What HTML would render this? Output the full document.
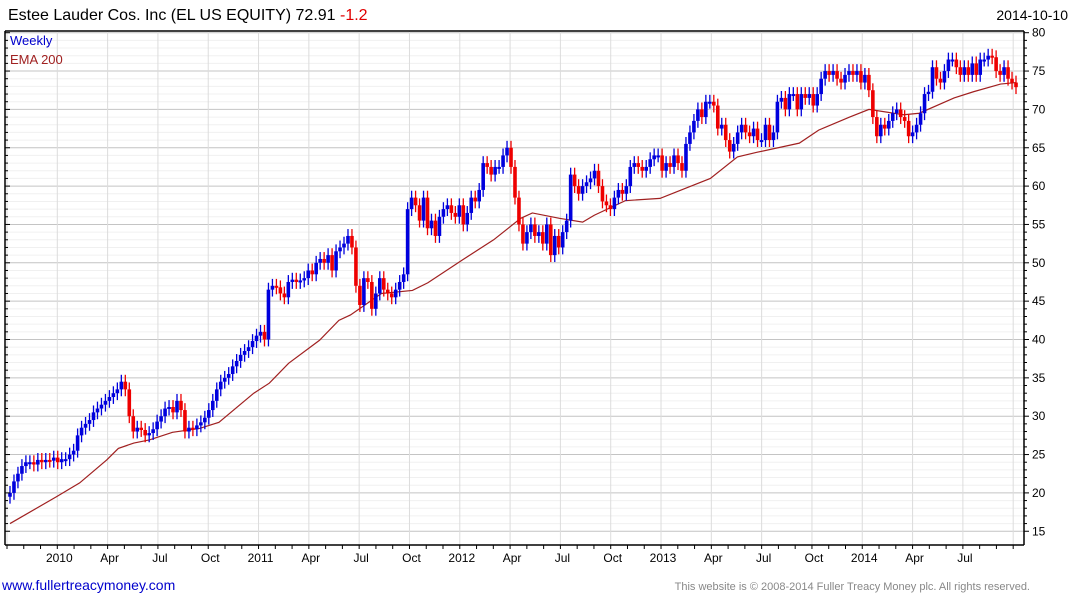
<!DOCTYPE html>
<html><head><meta charset="utf-8"><style>
body{margin:0;background:#fff;width:1075px;height:600px;overflow:hidden;font-family:"Liberation Sans",sans-serif}
svg{display:block}
</style></head><body>
<svg id="c" width="1075" height="600" xmlns="http://www.w3.org/2000/svg">
<text x="8" y="20" font-size="16" fill="#000">Estee Lauder Cos. Inc (EL US EQUITY) 72.91 <tspan fill="#e00000">-1.2</tspan></text>
<text x="1068" y="20" font-size="14" text-anchor="end" fill="#000">2014-10-10</text>
<g id="grid"></g><g id="ema"></g><g id="candles"></g><g id="axes"></g>
<text x="10" y="45" font-size="13" fill="#0000cc">Weekly</text>
<text x="10" y="64" font-size="13" fill="#a02020">EMA 200</text>
<text x="2" y="590" font-size="14" fill="#0000cc">www.fullertreacymoney.com</text>
<text x="1030" y="590" font-size="11" text-anchor="end" fill="#888">This website is © 2008-2014 Fuller Treacy Money plc. All rights reserved.</text>
</svg>
<script>
const closes=[20,21.5,22.5,23.5,24,24,23.7,24.3,24,24.3,24.2,24.6,24,24.4,24.4,25,25.5,27.5,28.5,29,29.5,30.5,31,31.5,32,32.5,33,33.5,34.5,33.5,30,28,28.5,28.2,27.5,27.8,28.3,29.3,30,31,31.2,30.5,32,30.8,28,28.5,28.3,28.8,29.2,29.8,30.8,32,33.5,34.5,35,35.5,36.5,37.2,38,38.5,39,39.8,40.5,41,40,46.5,47,46.8,46,45.5,47.5,47.8,47.5,47.7,48,49,48.5,50,50.5,50,51,49,51.5,52,52.5,53.5,52,47,44.5,48,47.5,44,46,48,46.5,46,45.5,46.5,47.5,48.5,57,58.5,57.5,55.5,58.5,54.5,55.5,53.5,56,57,57.5,56.5,56,57.5,55,56.5,58.5,58,59.5,63,62.5,61.5,62.5,62.5,64,65,62.5,58.5,55,52.5,54,55,53.5,54,52.5,55,51,53.5,52,54,55.5,61.5,60,59,60,60.5,61,62,60,58,57.5,57,58.5,59.5,59,60,62.5,63,62.5,62,62.5,63.5,64,64,62,63,62.5,64,63,62,65.5,67,68.5,70,69,71,71,70.5,67.5,68,66,64.5,65.5,67,68,67,66.5,67.5,66,66,68,66,67,71,71.5,70,72,72,70,72,71.5,72,70.5,72,74,75,74.5,75,74,73.5,74.5,75,74.5,75,73.5,74.5,72.5,69,66.5,68,67.5,68.5,69.5,70,69,68.5,66.5,67,68,69.5,72,72.3,75.5,74,73.5,75,76.5,76.5,75.5,74.5,75.5,74.5,76,74.5,76.5,76.5,77,76.8,75,74.5,75.5,74,73.5,72.9];
const emaWeeks=[0,12,18,25,28,32,36,42,49,54,63,67,72,80,85,88,96,104,108,117,125,132,135,142,148,151,159,168,174,181,188,193,204,209,217,222,231,235,244,249,256,260];
const emaValues=[16,19.5,21.3,24.3,25.8,26.5,26.9,27.9,28.4,29.2,33,34.3,36.9,39.9,42.5,43.2,46,46.4,47.4,50.4,53,55.8,56.5,55.8,55.3,56.2,58.1,58.4,59.6,61,63.8,64.4,65.6,67.3,69,70,69.3,69.5,71.5,72.3,73.3,73.5];
const yTicks=[15,20,25,30,35,40,45,50,55,60,65,70,75,80];
const xLabels=["2010","Apr","Jul","Oct","2011","Apr","Jul","Oct","2012","Apr","Jul","Oct","2013","Apr","Jul","Oct","2014","Apr","Jul"];
const NS="http://www.w3.org/2000/svg";
const L=5,R=1024,T=31,B=545;
const y=v=>32.7+(80-v)*7.67;
const xw=w=>10+w*(1006/260);
function mk(tag,attrs,parent){const e=document.createElementNS(NS,tag);for(const k in attrs)e.setAttribute(k,attrs[k]);parent.appendChild(e);return e;}
const grid=document.getElementById('grid'),axes=document.getElementById('axes');
for(let v=15;v<=80;v++){const l=mk('line',{x1:L,x2:R,y1:y(v),y2:y(v),stroke:v%5===0?'#c4c4c4':'#f0f0f0','stroke-width':1},grid);


const t=mk('line',{x1:L,x2:L+(v%5===0?5:3),y1:y(v),y2:y(v),stroke:'#000'},axes);


const t2=mk('line',{x1:R,x2:R+(v%5===0?5:3),y1:y(v),y2:y(v),stroke:'#000'},axes);

}
const monthX=m=>57.3+m*16.77;
for(let m=-3;m<=57;m++){const x=monthX(m);if(x<L||x>R)continue;
if(m%3===0){const l=mk('line',{x1:x,x2:x,y1:T,y2:B,stroke:'#dcdcdc'},grid);

}
const t=mk('line',{x1:x,x2:x,y1:B,y2:B+4,stroke:'#000'},axes);

}
xLabels.forEach((s,i)=>{const t=mk('text',{x:monthX(i*3)+2,y:562,'font-size':12,'text-anchor':'middle',fill:'#000'},axes);t.textContent=s;

});
yTicks.forEach(v=>{const t=mk('text',{x:1032,y:y(v)+4,'font-size':12,fill:'#000'},axes);t.textContent=v;

});
[[L,T,R,T],[L,T,L,B],[R,T,R,B],[L,B,R,B]].forEach(a=>{const l=mk('line',{x1:a[0],y1:a[1],x2:a[2],y2:a[3],stroke:'#000','stroke-width':1.5},axes);

});
const ep=mk('polyline',{points:emaWeeks.map((w,i)=>xw(w)+','+y(emaValues[i])).join(' '),fill:'none',stroke:'#a02020','stroke-width':1.2},document.getElementById('ema'));


const cg=document.getElementById('candles');const n=closes.length;
closes.forEach((c,i)=>{const o=i?closes[i-1]:c-0.5;const up=c>=o;const col=up?'#0000dd':'#ee0000';
const x=xw(i*260/(n-1));const hi=Math.max(o,c)+0.9,lo=Math.min(o,c)-0.9;
const g=mk('g',{},cg);


mk('line',{x1:x,x2:x,y1:y(hi),y2:y(lo),stroke:col,'stroke-width':1.3},g);
const top=y(Math.max(o,c)),h=Math.max(2,y(Math.min(o,c))-top);
mk('rect',{x:x-1.8,y:top,width:3.6,height:h,fill:col},g);});
</script>
</body></html>
